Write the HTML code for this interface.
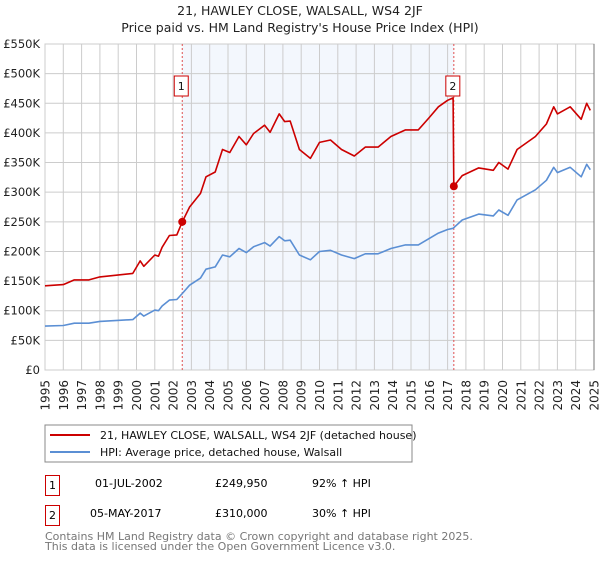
<!DOCTYPE html>
<html><head><meta charset="utf-8"><style>
body{margin:0;background:#fff;font-family:"Liberation Sans","DejaVu Sans",sans-serif;}
svg text{font-family:"DejaVu Sans","Liberation Sans",sans-serif;}
</style></head><body>
<svg id="c" width="600" height="560" viewBox="0 0 600 560" xmlns="http://www.w3.org/2000/svg">
<text x="300" y="15" text-anchor="middle" font-size="12.5" fill="#222">21, HAWLEY CLOSE, WALSALL, WS4 2JF</text>
<text x="300" y="32" text-anchor="middle" font-size="12.5" fill="#222">Price paid vs. HM Land Registry's House Price Index (HPI)</text>
<g id="grid"></g><g id="series"></g><g id="axes"></g>
<rect x="45" y="425" width="367" height="37" fill="#fff" stroke="#888"/>
<line x1="50" y1="435" x2="90" y2="435" stroke="#cc0000" stroke-width="2"/>
<text x="100" y="439" font-size="11" fill="#111">21, HAWLEY CLOSE, WALSALL, WS4 2JF (detached house)</text>
<line x1="50" y1="452" x2="90" y2="452" stroke="#5b8fd4" stroke-width="2"/>
<text x="100" y="456" font-size="11" fill="#111">HPI: Average price, detached house, Walsall</text>
<g>
<rect x="45.5" y="475.5" width="14" height="20" fill="#fff" stroke="#cc0000"/><text x="52.5" y="489" text-anchor="middle" font-size="11">1</text>
<text x="95" y="487" font-size="11">01-JUL-2002</text><text x="215" y="487" font-size="11">£249,950</text><text x="312" y="487" font-size="11">92% ↑ HPI</text></g>
<g>
<rect x="45.5" y="505.5" width="14" height="20" fill="#fff" stroke="#cc0000"/><text x="52.5" y="519" text-anchor="middle" font-size="11">2</text>
<text x="90" y="517" font-size="11">05-MAY-2017</text><text x="215" y="517" font-size="11">£310,000</text><text x="312" y="517" font-size="11">30% ↑ HPI</text></g>
<text x="45" y="540" font-size="11" fill="#777">Contains HM Land Registry data © Crown copyright and database right 2025.</text>
<text x="45" y="550" font-size="11" fill="#777">This data is licensed under the Open Government Licence v3.0.</text>
</svg>
<script>
const hpiYears=[1995.0,1996.0,1996.6,1997.4,1998.0,1999.8,2000.2,2000.4,2001.0,2001.2,2001.4,2001.8,2002.2,2002.5,2002.9,2003.5,2003.8,2004.3,2004.7,2005.1,2005.6,2006.0,2006.4,2007.0,2007.3,2007.8,2008.1,2008.4,2008.9,2009.5,2010.0,2010.6,2011.2,2011.9,2012.5,2013.2,2013.9,2014.7,2015.4,2016.0,2016.5,2017.0,2017.3,2017.8,2018.7,2019.5,2019.8,2020.3,2020.8,2021.8,2022.4,2022.8,2023.0,2023.7,2024.3,2024.6,2024.8];
const hpiValues=[74,75,79,79,82,85,96,91,101,100,108,118,119,129,143,155,170,174,194,191,205,198,208,215,209,225,218,219,194,186,200,202,194,188,196,196,205,211,211,222,231,237,239,253,263,260,270,261,287,304,320,342,333,342,326,347,338];
const propYears=[1995.0,1996.0,1996.6,1997.4,1998.0,1999.8,2000.2,2000.4,2001.0,2001.2,2001.4,2001.8,2002.2,2002.5,2002.9,2003.5,2003.8,2004.3,2004.7,2005.1,2005.6,2006.0,2006.4,2007.0,2007.3,2007.8,2008.1,2008.4,2008.9,2009.5,2010.0,2010.6,2011.2,2011.9,2012.5,2013.2,2013.9,2014.7,2015.4,2016.0,2016.5,2017.0,2017.3,2017.34,2017.8,2018.7,2019.5,2019.8,2020.3,2020.8,2021.8,2022.4,2022.8,2023.0,2023.7,2024.3,2024.6,2024.8];
const propValues=[142,144,152,152,157,163,184,175,194,192,207,227,228,250,275,298,326,334,372,367,394,380,399,413,401,432,419,420,372,357,384,388,372,361,376,376,394,405,405,426,444,455,459,310,328,341,337,350,339,372,394,415,444,432,444,423,450,438];
const saleYears=[2002.5,2017.34];
const saleValues=[249.95,310];
const saleLabels=["1","2"];
const yTicks=[0,50,100,150,200,250,300,350,400,450,500,550];
const yTickLabels=["£0","£50K","£100K","£150K","£200K","£250K","£300K","£350K","£400K","£450K","£500K","£550K"];
const xTicks=[1995,1996,1997,1998,1999,2000,2001,2002,2003,2004,2005,2006,2007,2008,2009,2010,2011,2012,2013,2014,2015,2016,2017,2018,2019,2020,2021,2022,2023,2024,2025];

const NS="http://www.w3.org/2000/svg";
const X0=45,X1=594,Y0=370,Y1=44;
const xs=y=>X0+(y-1995)/30*(X1-X0);
const ys=v=>Y0-v/550*(Y0-Y1);
function mk(tag,attrs,parent){const e=document.createElementNS(NS,tag);for(const k in attrs)e.setAttribute(k,attrs[k]);parent.appendChild(e);return e;}
const grid=document.getElementById('grid'),ser=document.getElementById('series'),ax=document.getElementById('axes');
let r=mk('rect',{x:xs(saleYears[0]),y:Y1,width:xs(saleYears[1])-xs(saleYears[0]),height:Y0-Y1,fill:'#eef3fc',opacity:0.7},grid);


xTicks.forEach(t=>{
 let l=mk('line',{x1:xs(t),x2:xs(t),y1:Y1,y2:Y0,stroke:'#ccc','stroke-width':1},grid);
 
 
 let tx=mk('text',{x:0,y:0,'text-anchor':'end','font-size':12,fill:'#222',transform:'translate('+(xs(t)+4.5)+',380) rotate(-90)'},ax);
 tx.textContent=t;
 
 
});
yTicks.forEach((t,i)=>{
 let l=mk('line',{x1:X0,x2:X1,y1:ys(t),y2:ys(t),stroke:'#ccc','stroke-width':1},grid);
 
 
 let tx=mk('text',{x:40,y:ys(t)+4,'text-anchor':'end','font-size':11.5,fill:'#222'},ax);
 tx.textContent=yTickLabels[i];
 
 
});
let fr=mk('rect',{x:X0,y:Y1,width:X1-X0,height:Y0-Y1,fill:'none',stroke:'#ccc'},grid);


let re=mk('line',{x1:X1,x2:X1,y1:Y1,y2:Y0,stroke:'#777','stroke-width':1},grid);


saleYears.forEach((y,i)=>{
 let l=mk('line',{x1:xs(y),x2:xs(y),y1:Y1,y2:Y0,stroke:'#e05050','stroke-width':1,'stroke-dasharray':'2,2'},ser);
 
 
});
function path(xa,va,col,name){
 let d=xa.map((y,i)=>(i?'L':'M')+xs(y).toFixed(1)+','+ys(va[i]).toFixed(1)).join('');
 let p=mk('path',{d:d,fill:'none',stroke:col,'stroke-width':1.6,'stroke-linejoin':'round'},ser);
 
 
}
path(hpiYears,hpiValues,'#5b8fd4','hpi-line');
path(propYears,propValues,'#cc0000','property-price-line');
saleYears.forEach((y,i)=>{
 let c=mk('circle',{cx:xs(y),cy:ys(saleValues[i]),r:4,fill:'#cc0000'},ser);
 
 
 let b=mk('rect',{x:xs(y)-8,y:76,width:14,height:20,fill:'#fff',stroke:'#cc0000'},ser);
 
 
 let t=mk('text',{x:xs(y)-1,y:90,'text-anchor':'middle','font-size':11,fill:'#111'},ser);
 t.textContent=saleLabels[i];
 
 
});
</script>
</body></html>
